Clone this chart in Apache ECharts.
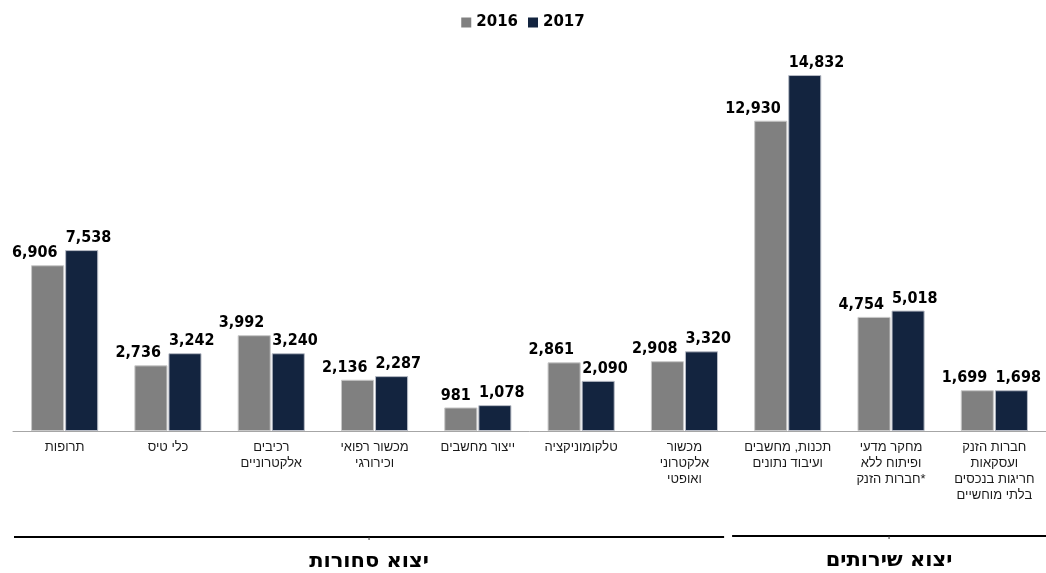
<!DOCTYPE html>
<html><head><meta charset="utf-8">
<script src="https://cdn.jsdelivr.net/npm/echarts@6/dist/echarts.min.js"></script>
<style>html,body{margin:0;padding:0;background:#fff}#c{width:1046px;height:573px}</style>
</head><body><div id="c"></div>
<script>
const categories = [
  "תרופות",
  "כלי טיס",
  "רכיבים\nאלקטרוניים",
  "מכשור רפואי\nוכירורגי",
  "ייצור מחשבים",
  "טלקומוניקציה",
  "מכשור\nאלקטרוני\nואופטי",
  "תכנות, מחשבים\nועיבוד נתונים",
  "מחקר מדעי\nופיתוח ללא\nחברות הזנק*",
  "חברות הזנק\nועסקאות\nחריגות בנכסים\nבלתי מוחשיים"
];
const values2016 = [6906, 2736, 3992, 2136, 981, 2861, 2908, 12930, 4754, 1699];
const values2017 = [7538, 3242, 3240, 2287, 1078, 2090, 3320, 14832, 5018, 1698];
const seriesNames = ["2016", "2017"];
const groups = [
  {name: "יצוא סחורות", from: 0, to: 6},
  {name: "יצוא שירותים", from: 7, to: 9}
];

const numFont = "'DejaVu Sans Condensed', 'DejaVu Sans', sans-serif";
const chart = echarts.init(document.getElementById('c'));
const baseLabel = {
  show: true, position: 'top', distance: 4,
  fontFamily: numFont, fontWeight: 'bold', fontSize: 16, color: '#000',
  formatter: p => p.value.toLocaleString('en-US')
};
chart.setOption({
  animation: false,
  legend: {
    top: 10, left: 'center', itemWidth: 10, itemHeight: 10, itemGap: 10,
    icon: 'rect',
    itemStyle: {borderWidth: 0},
    textStyle: {fontFamily: 'DejaVu Sans', fontWeight: 'bold', fontSize: 15, color: '#000'},
    data: seriesNames
  },
  grid: {left: 13, right: 0, top: 47, bottom: 142},
  xAxis: {
    type: 'category', data: categories,
    axisLine: {lineStyle: {color: '#a6a6a6', width: 1}},
    axisTick: {show: false},
    axisLabel: {interval: 0, margin: 8, fontFamily: 'Liberation Sans, DejaVu Sans', fontSize: 13, lineHeight: 16, color: '#1a1a1a'}
  },
  yAxis: {type: 'value', min: 0, max: 16000, show: false, splitLine: {show: false}},
  series: [
    {name: seriesNames[0], type: 'bar', data: values2016, barGap: '3%', barCategoryGap: '35%',
     itemStyle: {color: '#808080', borderColor: '#c8c8c8', borderWidth: 1},
     label: Object.assign({}, baseLabel, {align: 'right', offset: [10, 0]})},
    {name: seriesNames[1], type: 'bar', data: values2017,
     itemStyle: {color: '#13243f', borderColor: '#b8bcc6', borderWidth: 1},
     label: Object.assign({}, baseLabel, {align: 'left', offset: [-16, 0]})}
  ]
});

function drawGroups() {
  const step = chart.convertToPixel({xAxisIndex: 0}, 1) - chart.convertToPixel({xAxisIndex: 0}, 0);
  const elems = [];
  groups.forEach((g, i) => {
    const x0 = chart.convertToPixel({xAxisIndex: 0}, g.from) - step / 2 + (i === 0 ? 1 : -4);
    const x1 = chart.convertToPixel({xAxisIndex: 0}, g.to) + step / 2 - (i === 0 ? 12 : 0);
    const y = i === 0 ? 537 : 536;
    const mid = (x0 + x1) / 2;
    elems.push({type: 'line', shape: {x1: x0, y1: y, x2: x1, y2: y}, style: {stroke: '#000', lineWidth: 2}});
    elems.push({type: 'line', shape: {x1: mid, y1: y, x2: mid, y2: y + 3}, style: {stroke: '#333', lineWidth: 1}});
    elems.push({type: 'text', x: mid, y: y + 25, style: {text: g.name, fontFamily: 'DejaVu Sans', fontWeight: 'bold', fontSize: 21, fill: '#000', align: 'center', verticalAlign: 'middle'}});
  });
  chart.setOption({graphic: elems});
}
drawGroups();
</script></body></html>
